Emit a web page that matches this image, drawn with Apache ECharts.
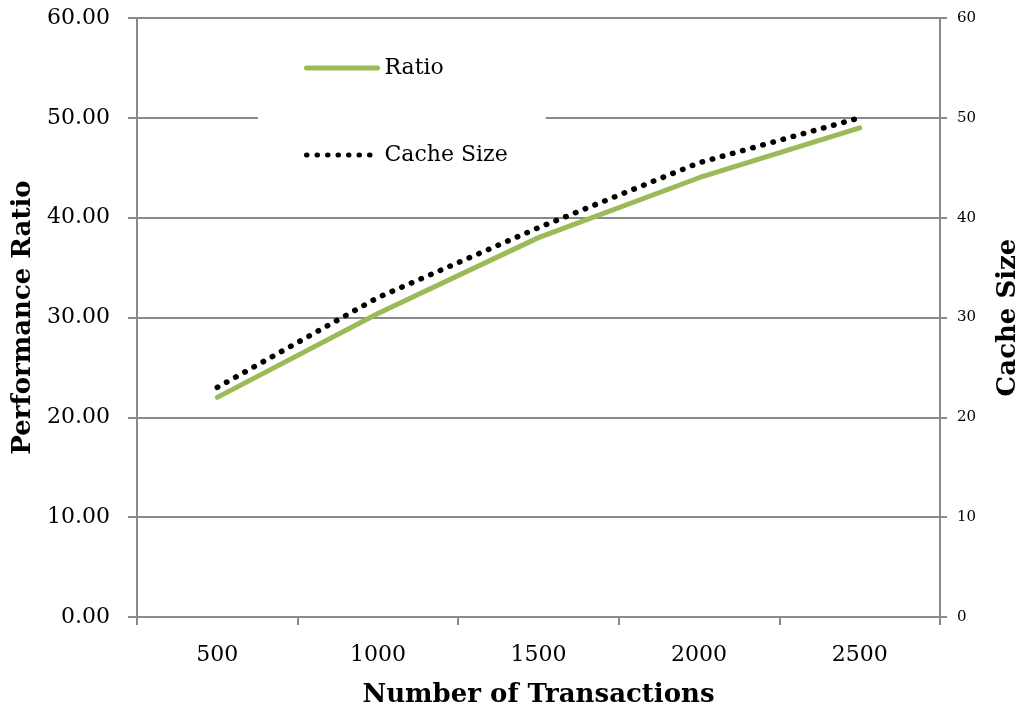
<!DOCTYPE html>
<html>
<head>
<meta charset="utf-8">
<script src="https://cdn.jsdelivr.net/npm/echarts@6/dist/echarts.min.js"></script>
<style>html,body{margin:0;padding:0;background:#fff}#c{width:1022px;height:710px}</style>
</head>
<body>
<div id="c"></div>
<script>
const categories = ['500', '1000', '1500', '2000', '2500'];
const ratioValues = [22.0, 30.4, 38.0, 44.0, 49.0];
const cacheSizeValues = [23.0, 32.0, 39.0, 45.5, 50.0];
const FONT = 'DejaVu Serif';
const gridColor = '#8a8a8a';
const green = '#9bbb59';

const chart = echarts.init(document.getElementById('c'));
chart.setOption({
  backgroundColor: '#fff',
  animation: false,
  textStyle: { fontFamily: FONT, color: '#000' },
  grid: { left: 137, right: 82, top: 18, bottom: 93, containLabel: false, outerBoundsMode: 'none' },
  legend: {
    orient: 'vertical',
    left: 258,
    top: 45,
    backgroundColor: '#fff',
    padding: [12, 38, 12, 46],
    itemGap: 65,
    itemWidth: 71,
    itemHeight: 14,
    itemStyle: { opacity: 0 },
    textStyle: { fontFamily: FONT, fontSize: 22, color: '#000', padding: [0, 0, 0, 2] },
    data: [
      { name: 'Ratio', lineStyle: { width: 5, color: green, cap: 'round' } },
      { name: 'Cache Size', lineStyle: { width: 5, color: '#000', type: [0.5, 10], cap: 'round' } }
    ]
  },
  xAxis: {
    type: 'category',
    data: categories,
    boundaryGap: true,
    name: 'Number of Transactions',
    nameLocation: 'middle',
    nameGap: 65,
    nameTextStyle: { fontFamily: FONT, fontSize: 26, fontWeight: 'bold', color: '#000' },
    axisLine: { lineStyle: { color: gridColor, width: 2 } },
    axisTick: { show: true, length: 8, lineStyle: { color: gridColor, width: 2 } },
    axisLabel: { fontFamily: FONT, fontSize: 22, color: '#000', margin: 27 }
  },
  yAxis: [
    {
      type: 'value',
      min: 0, max: 60, interval: 10,
      position: 'left',
      name: 'Performance Ratio',
      nameLocation: 'middle',
      nameRotate: 90,
      nameGap: 87,
      nameTextStyle: { fontFamily: FONT, fontSize: 26, fontWeight: 'bold', color: '#000' },
      axisLine: { show: true, lineStyle: { color: gridColor, width: 2 } },
      axisTick: { show: true, length: 9, lineStyle: { color: gridColor, width: 2 } },
      axisLabel: { fontFamily: FONT, fontSize: 22, color: '#000', margin: 27, formatter: v => v.toFixed(2) },
      splitLine: { show: true, lineStyle: { color: gridColor, width: 2 } }
    },
    {
      type: 'value',
      min: 0, max: 60, interval: 10,
      position: 'right',
      name: 'Cache Size',
      nameLocation: 'middle',
      nameRotate: 90,
      nameGap: 55,
      nameTextStyle: { fontFamily: FONT, fontSize: 26, fontWeight: 'bold', color: '#000' },
      axisLine: { show: true, lineStyle: { color: gridColor, width: 2 } },
      axisTick: { show: true, length: 7, lineStyle: { color: gridColor, width: 2 } },
      axisLabel: { fontFamily: FONT, fontSize: 15, color: '#000', margin: 17 },
      splitLine: { show: false }
    }
  ],
  series: [
    {
      name: 'Ratio',
      type: 'line',
      yAxisIndex: 0,
      data: ratioValues,
      showSymbol: false,
      symbol: 'none',
      itemStyle: { color: green },
      lineStyle: { color: green, width: 5, cap: 'round', join: 'round' },
      z: 2
    },
    {
      name: 'Cache Size',
      type: 'line',
      yAxisIndex: 1,
      data: cacheSizeValues,
      showSymbol: false,
      symbol: 'none',
      itemStyle: { color: '#000' },
      lineStyle: { color: '#000', width: 5.5, type: [0.5, 10], cap: 'round' },
      z: 3
    }
  ]
});
</script>
</body>
</html>
